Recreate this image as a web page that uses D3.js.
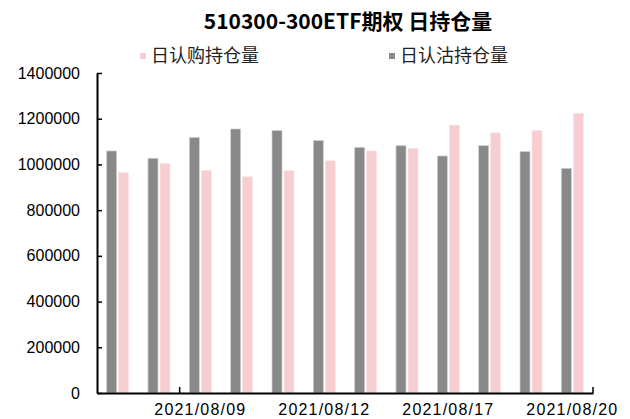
<!DOCTYPE html>
<html>
<head>
<meta charset="utf-8">
<script src="https://cdn.jsdelivr.net/npm/d3@7"></script>
<style>
    body { margin: 0; background: #fff; }
    svg { display: block; }
    .axis path, .axis line { stroke: #000; }
    .axis text { fill: #000; font-family: "Liberation Sans", Arial, sans-serif; }
</style>
</head>
<body>
<div id="chart"></div>
<script>
const dates = ['2021/08/05', '2021/08/06', '2021/08/09', '2021/08/10', '2021/08/11', '2021/08/12',
               '2021/08/13', '2021/08/16', '2021/08/17', '2021/08/18', '2021/08/19', '2021/08/20'];
// 日认购持仓量 (call)
const callOI = [964000, 1005000, 973000, 946000, 973000, 1016000, 1059000, 1070000, 1172000, 1138000, 1149000, 1224000];
// 日认沽持仓量 (put)
const putOI = [1059000, 1027000, 1118000, 1155000, 1148000, 1105000, 1075000, 1082000, 1037000, 1082000, 1056000, 983000];
const yTicks = [0, 200000, 400000, 600000, 800000, 1000000, 1200000, 1400000];
const labelDates = ['2021/08/09', '2021/08/12', '2021/08/17', '2021/08/20'];

const width = 630, height = 419;
const plotLeft = 97, plotRight = 593, plotTop = 73, plotBottom = 393;

const pink = '#f6cdd0';
const gray = '#898989';

const svg = d3.select('#chart').append('svg')
    .attr('width', width)
    .attr('height', height);

const x = d3.scaleBand().domain(dates).range([plotLeft, plotRight]).padding(0);
const y = d3.scaleLinear().domain([0, 1400000]).range([plotBottom, plotTop]);

const barW = 10;

// title
svg.append('text')
    .attr('x', 348)
    .attr('y', 29)
    .attr('text-anchor', 'middle')
    .attr('font-family', '"Noto Sans CJK SC", sans-serif')
    .attr('font-weight', 'bold')
    .attr('font-size', '21px')
    .text('510300-300ETF期权 日持仓量');

// legend
const legend = [
    { name: '日认购持仓量', color: pink, x: 140 },
    { name: '日认沽持仓量', color: gray, x: 389 }
];
const lg = svg.append('g').selectAll('g')
    .data(legend)
    .enter().append('g')
    .attr('transform', d => `translate(${d.x},56)`);
lg.append('rect')
    .attr('x', 0).attr('y', -3)
    .attr('width', 6).attr('height', 6)
    .attr('fill', d => d.color);
lg.append('text')
    .attr('x', 11)
    .attr('y', 0)
    .attr('dy', '0.36em')
    .attr('font-family', '"Noto Sans CJK SC", sans-serif')
    .attr('font-size', '18px')
    .attr('fill', '#222')
    .text(d => d.name);

// bars
const groups = svg.append('g').selectAll('g')
    .data(dates)
    .enter().append('g');

groups.append('rect')
    .attr('x', d => x(d) + x.bandwidth() / 2 - barW - 1)
    .attr('y', (d, i) => y(putOI[i]))
    .attr('width', barW)
    .attr('height', (d, i) => y(0) - y(putOI[i]))
    .attr('fill', gray)
    .attr('stroke', '#d0d0d0')
    .attr('stroke-width', 0.7);

groups.append('rect')
    .attr('x', d => x(d) + x.bandwidth() / 2 + 1)
    .attr('y', (d, i) => y(callOI[i]))
    .attr('width', barW)
    .attr('height', (d, i) => y(0) - y(callOI[i]))
    .attr('fill', pink)
    .attr('stroke', '#fbe6e8')
    .attr('stroke-width', 0.7);

// y axis
const yAxis = svg.append('g')
    .attr('class', 'axis')
    .attr('transform', `translate(${plotLeft},0)`)
    .call(d3.axisLeft(y).tickValues(yTicks).tickFormat(d3.format('d'))
        .tickSizeInner(-5).tickSizeOuter(0).tickPadding(17));
yAxis.select('.domain').attr('stroke-width', 2);
yAxis.selectAll('.tick line').attr('stroke-width', 1.5);
yAxis.selectAll('text').attr('font-size', '16px');

// x axis
const xAxis = svg.append('g')
    .attr('class', 'axis')
    .attr('transform', `translate(0,${plotBottom})`)
    .call(d3.axisBottom(x).tickValues(labelDates).tickSize(0).tickPadding(11));
xAxis.select('.domain').attr('stroke-width', 2);
xAxis.selectAll('text')
    .attr('font-size', '16px')
    .attr('letter-spacing', '1.2px');

// x tick marks at category boundaries
const tickPos = [x(dates[2]), plotRight];
svg.append('g').selectAll('line')
    .data(tickPos)
    .enter().append('line')
    .attr('x1', d => d).attr('x2', d => d)
    .attr('y1', plotBottom).attr('y2', plotBottom - 6)
    .attr('stroke', '#000')
    .attr('stroke-width', 1.5);
</script>
</body>
</html>
